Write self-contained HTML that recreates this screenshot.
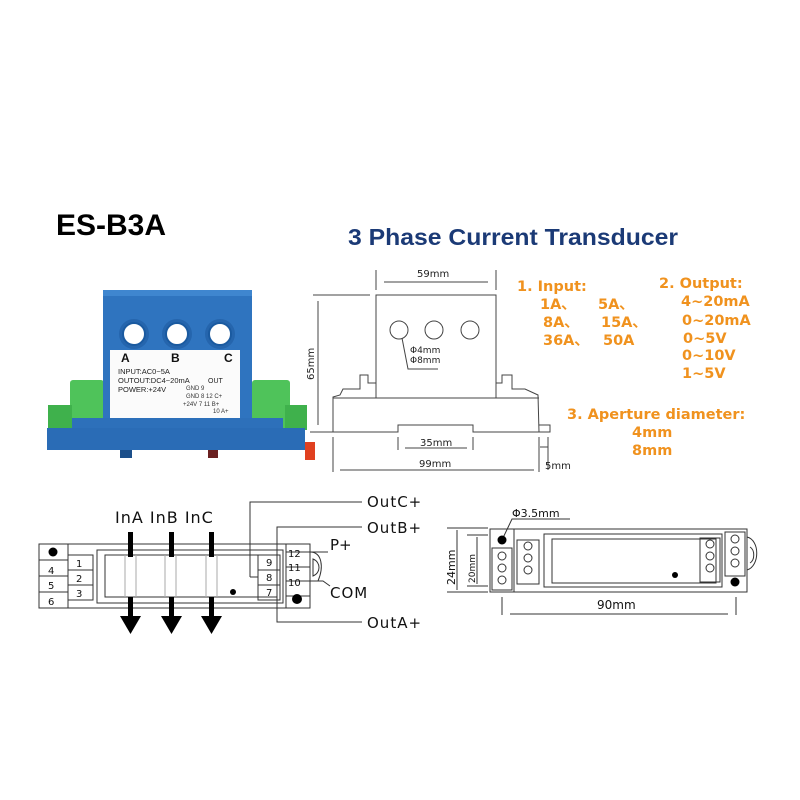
<!DOCTYPE html>
<html><head><meta charset="utf-8"><style>
html,body{margin:0;padding:0;background:#fff;}
svg{display:block;}
text{font-family:"Liberation Sans","DejaVu Sans",sans-serif;}
.d text{font-family:"DejaVu Sans","Liberation Sans",sans-serif;}
.o{fill:#f0921e;font-weight:bold;font-size:14.5px;font-family:"DejaVu Sans","Liberation Sans",sans-serif;}
</style></head><body>
<svg width="800" height="800" viewBox="0 0 800 800" xmlns="http://www.w3.org/2000/svg">
<rect width="800" height="800" fill="#fff"/>
<text x="56" y="235" font-size="30" font-weight="bold" fill="#000">ES-B3A</text>
<text x="348" y="245" font-size="23" font-weight="bold" fill="#1b3a76" textLength="330" lengthAdjust="spacingAndGlyphs">3 Phase Current Transducer</text>

<!-- photo -->
<g>
<rect x="70" y="380" width="34" height="48" fill="#4fc35a" rx="3"/>
<rect x="252" y="380" width="38" height="48" fill="#4fc35a" rx="3"/>
<rect x="48" y="405" width="24" height="25" fill="#3fb14c"/>
<rect x="285" y="405" width="22" height="25" fill="#3fb14c"/>
<rect x="103" y="290" width="149" height="130" fill="#2f74bf"/>
<rect x="103" y="290" width="149" height="6" fill="#3f86cf"/>
<circle cx="134" cy="334" r="15" fill="#2565ad"/><circle cx="134" cy="334" r="11" fill="#fff" stroke="#1a5aa0" stroke-width="2"/>
<circle cx="177" cy="334" r="15" fill="#2565ad"/><circle cx="177" cy="334" r="11" fill="#fff" stroke="#1a5aa0" stroke-width="2"/>
<circle cx="220" cy="334" r="15" fill="#2565ad"/><circle cx="220" cy="334" r="11" fill="#fff" stroke="#1a5aa0" stroke-width="2"/>
<rect x="110" y="350" width="130" height="68" fill="#fbfbfb"/>
<text x="121" y="362" font-size="12" font-weight="bold" fill="#111">A</text>
<text x="171" y="362" font-size="12" font-weight="bold" fill="#111">B</text>
<text x="224" y="362" font-size="12" font-weight="bold" fill="#111">C</text>
<text x="118" y="374" font-size="7.5" fill="#222">INPUT:AC0~5A</text>
<text x="118" y="383" font-size="7.5" fill="#222">OUTOUT:DC4~20mA</text>
<text x="208" y="383" font-size="7" fill="#222">OUT</text>
<text x="118" y="392" font-size="7.5" fill="#222">POWER:+24V</text>
<text x="186" y="390" font-size="6" fill="#333">GND 9</text>
<text x="186" y="398" font-size="6" fill="#333">GND 8 12 C+</text>
<text x="183" y="406" font-size="6" fill="#333">+24V 7 11 B+</text>
<text x="213" y="413" font-size="6" fill="#333">10 A+</text>
<rect x="72" y="418" width="211" height="12" fill="#2d70ba"/>
<rect x="47" y="428" width="258" height="22" fill="#2a6cb6"/>
<rect x="120" y="450" width="12" height="8" fill="#1c4f8a"/>
<rect x="208" y="450" width="10" height="8" fill="#6a2020"/>
<rect x="305" y="442" width="10" height="18" fill="#e04020"/>
</g>

<!-- front dimension drawing -->
<g class="d" stroke="#444" stroke-width="1" fill="none">
<rect x="376" y="295" width="120" height="103"/>
<circle cx="399" cy="330" r="9"/><circle cx="434" cy="330" r="9"/><circle cx="470" cy="330" r="9"/>
<path d="M402 338 L408 369 L438 369"/>
<path d="M333 432 L333 397 L340 395 L343 389 L360 389 L360 375 L368 375 L368 383 L376 383 L376 398"/>
<path d="M496 398 L496 383 L502 383 L502 375 L512 375 L512 389 L525 389 L538 395 L539 432"/>
<path d="M333 398 L539 398"/>
<path d="M310 432 L398 432 L398 425 L473 425 L473 432 L550 432 L550 425 L539 425"/>
<path d="M376 270 L376 290 M496 270 L496 290 M384 282 L488 282"/>
<path d="M313 295 L370 295 M318 301 L318 425"/>
<path d="M398 437 L398 450 M473 437 L473 450 M405 448 L467 448"/>
<path d="M333 437 L333 472 M539 437 L539 472 M340 470 L534 470"/>
<path d="M548 437 L548 470 M540 447 L548 447"/>
</g>
<g font-size="10" fill="#222" class="d">
<text x="417" y="277">59mm</text>
<text x="314" y="380" transform="rotate(-90 314 380)">65mm</text>
<text x="410" y="353" font-size="9">Φ4mm</text>
<text x="410" y="363" font-size="9">Φ8mm</text>
<text x="420" y="446">35mm</text>
<text x="419" y="467">99mm</text>
<text x="545" y="469">5mm</text>
</g>

<!-- orange -->
<text class="o" x="517" y="291">1. Input:</text>
<text class="o" x="540" y="309">1A、</text><text class="o" x="598" y="309">5A、</text>
<text class="o" x="543" y="327">8A、</text><text class="o" x="601" y="327">15A、</text>
<text class="o" x="543" y="345">36A、</text><text class="o" x="603" y="345">50A</text>
<text class="o" x="659" y="288">2. Output:</text>
<text class="o" x="681" y="306">4~20mA</text>
<text class="o" x="682" y="325">0~20mA</text>
<text class="o" x="683" y="343">0~5V</text>
<text class="o" x="682" y="360">0~10V</text>
<text class="o" x="682" y="378">1~5V</text>
<text class="o" x="567" y="419">3. Aperture diameter:</text>
<text class="o" x="632" y="437">4mm</text>
<text class="o" x="632" y="455">8mm</text>

<!-- wiring diagram -->
<g stroke="#333" stroke-width="1" fill="none">
<rect x="39" y="544" width="271" height="64"/>
<path d="M68 544 L68 608 M39 560 L68 560 M39 576 L68 576 M39 592 L68 592"/>
<rect x="68" y="555" width="25" height="45"/>
<path d="M68 570 L93 570 M68 585 L93 585"/>
<rect x="97" y="550" width="186" height="53"/>
<rect x="105" y="555" width="172" height="42"/>
<path d="M125 555 L125 597 M136 555 L136 597 M165 555 L165 597 M176 555 L176 597 M206 555 L206 597 M217 555 L217 597" stroke="#aaa"/>
<rect x="258" y="555" width="22" height="45"/>
<path d="M258 570 L280 570 M258 585 L280 585"/>
<rect x="286" y="544" width="24" height="64"/>
<path d="M286 552 L310 552 M286 567 L310 567 M286 581 L310 581 M286 596 L310 596"/>
<path d="M310 552 C322 552 324 567 318 581 L310 581"/>
<path d="M313 559 C321 562 321 573 313 576 Z"/>
<path d="M310 552 L328 552 M310 581 L323 581 L330 586"/>
<path d="M250 577 L250 502 L362 502 M258 577 L250 577"/>
<path d="M277 562 L277 527 L362 527"/>
<path d="M277 594 L277 622 L362 622"/>
</g>
<circle cx="53" cy="552" r="4.5" fill="#000"/>
<circle cx="233" cy="592" r="3" fill="#000"/>
<circle cx="297" cy="599" r="5" fill="#000"/>
<g fill="#000">
<rect x="128" y="532" width="5" height="25"/><rect x="169" y="532" width="5" height="25"/><rect x="209" y="532" width="5" height="25"/>
<rect x="128" y="597" width="5" height="20"/><rect x="169" y="597" width="5" height="20"/><rect x="209" y="597" width="5" height="20"/>
<path d="M120 616 L141 616 L130.5 634Z"/><path d="M161 616 L182 616 L171.5 634Z"/><path d="M201 616 L222 616 L211.5 634Z"/>
</g>
<g class="d" fill="#111">
<text x="115" y="523" font-size="16" letter-spacing="1">InA InB InC</text>
<text x="367" y="507" font-size="15" letter-spacing="1">OutC+</text>
<text x="367" y="533" font-size="15" letter-spacing="1">OutB+</text>
<text x="367" y="628" font-size="15" letter-spacing="1">OutA+</text>
<text x="330" y="550" font-size="15">P+</text>
<text x="330" y="598" font-size="15" letter-spacing="1">COM</text>
<g font-size="10">
<text x="48" y="574">4</text><text x="48" y="589">5</text><text x="48" y="605">6</text>
<text x="76" y="567">1</text><text x="76" y="582">2</text><text x="76" y="597">3</text>
<text x="266" y="566">9</text><text x="266" y="581">8</text><text x="266" y="596">7</text>
<text x="288" y="557">12</text><text x="288" y="571">11</text><text x="288" y="586">10</text>
</g>
</g>

<!-- right drawing -->
<g stroke="#333" stroke-width="1" fill="none">
<rect x="490" y="529" width="257" height="63"/>
<path d="M514 529 L514 592"/>
<rect x="492" y="548" width="20" height="42"/>
<rect x="517" y="540" width="22" height="44"/>
<rect x="544" y="534" width="178" height="53"/>
<rect x="552" y="539" width="164" height="44"/>
<rect x="700" y="538" width="20" height="44"/>
<rect x="725" y="532" width="20" height="44"/>
<path d="M747 537 C760 540 760 566 747 570 M750 547 C755 550 755 560 750 563"/>
<circle cx="502" cy="556" r="4"/><circle cx="502" cy="568" r="4"/><circle cx="502" cy="580" r="4"/>
<circle cx="528" cy="546" r="4"/><circle cx="528" cy="558" r="4"/><circle cx="528" cy="570" r="4"/>
<circle cx="710" cy="544" r="4"/><circle cx="710" cy="556" r="4"/><circle cx="710" cy="568" r="4"/>
<circle cx="735" cy="539" r="4"/><circle cx="735" cy="551" r="4"/><circle cx="735" cy="563" r="4"/>
<path d="M502 540 L512 519 L570 519"/>
<path d="M447 528 L488 528 M447 592 L488 592 M457 530 L457 590 M467 535 L488 535 M467 586 L488 586 M477 537 L477 584"/>
<path d="M502 597 L502 615 M736 597 L736 615 M510 614 L728 614"/>
</g>
<circle cx="502" cy="540" r="4.5" fill="#000"/>
<circle cx="735" cy="582" r="4.5" fill="#000"/>
<circle cx="675" cy="575" r="3" fill="#000"/>
<g class="d" fill="#111">
<text x="512" y="517" font-size="11">Φ3.5mm</text>
<text x="455" y="585" font-size="11" transform="rotate(-90 455 585)">24mm</text>
<text x="475" y="583" font-size="9" transform="rotate(-90 475 583)">20mm</text>
<text x="597" y="609" font-size="12">90mm</text>
</g>
</svg>
</body></html>
